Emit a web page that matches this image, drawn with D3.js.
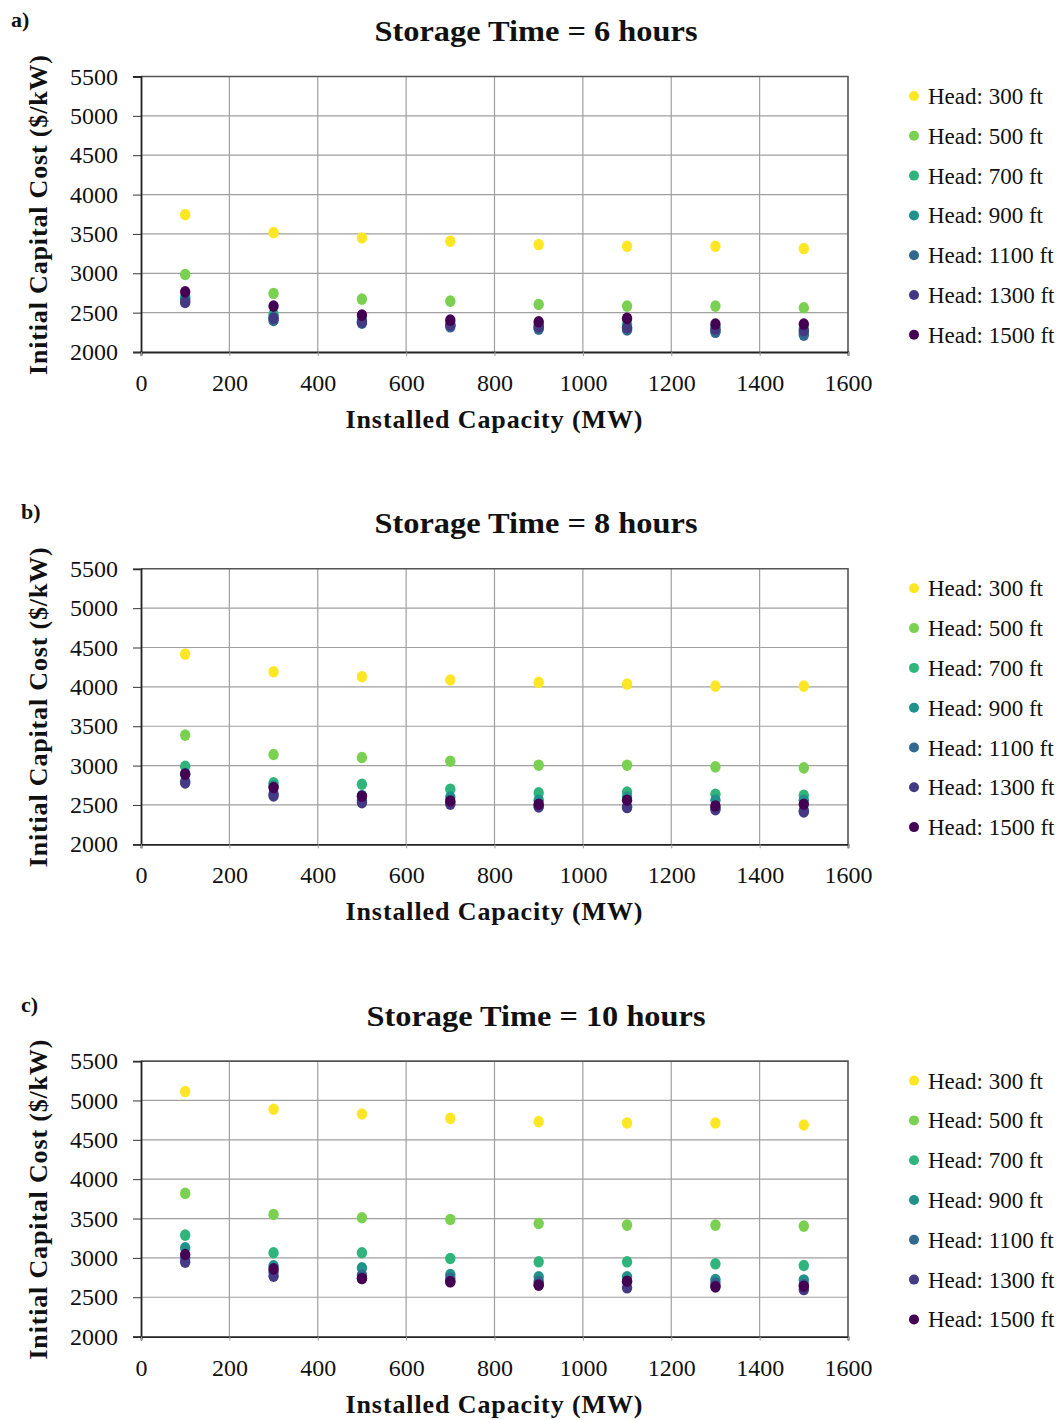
<!DOCTYPE html>
<html>
<head>
<meta charset="utf-8">
<script src="https://cdn.jsdelivr.net/npm/d3@7"></script>
<style>
  body { margin: 0; background: #fff; }
  text { font-family: "Liberation Serif", "Times New Roman", serif; fill: #111; }
</style>
</head>
<body>
<script>
// data
var capacity = [100, 300, 500, 700, 900, 1100, 1300, 1500];
var heads = [300, 500, 700, 900, 1100, 1300, 1500];
var headColors = ["#fde725", "#7ad151", "#2fb47c", "#21918c", "#31688e", "#443983", "#440154"];
var panelLabels = ["a)", "b)", "c)"];
var panelTitles = ["Storage Time = 6 hours", "Storage Time = 8 hours", "Storage Time = 10 hours"];
var yTicks = [2000, 2500, 3000, 3500, 4000, 4500, 5000, 5500];
var xTicks = [0, 200, 400, 600, 800, 1000, 1200, 1400, 1600];

// one row per head (300 ... 1500 ft), one value per capacity
var cost6 = [
  [3745, 3517, 3449, 3407, 3365, 3343, 3343, 3314],
  [2985, 2744, 2672, 2646, 2604, 2583, 2583, 2562],
  [2700, 2480, 2420, 2370, 2350, 2350, 2320, 2300],
  [2680, 2440, 2390, 2340, 2310, 2300, 2270, 2240],
  [2650, 2400, 2365, 2320, 2290, 2280, 2250, 2215],
  [2630, 2430, 2380, 2340, 2320, 2310, 2290, 2270],
  [2764, 2583, 2469, 2405, 2384, 2427, 2355, 2355]
];
var cost8 = [
  [4417, 4192, 4129, 4087, 4057, 4036, 4010, 4010],
  [3387, 3141, 3103, 3056, 3005, 3005, 2984, 2971],
  [2990, 2780, 2763, 2700, 2653, 2664, 2636, 2623],
  [2900, 2740, 2620, 2600, 2560, 2600, 2560, 2560],
  [2800, 2640, 2560, 2530, 2490, 2480, 2460, 2430],
  [2780, 2615, 2530, 2509, 2475, 2467, 2441, 2411],
  [2891, 2721, 2611, 2551, 2509, 2560, 2487, 2509]
];
var cost10 = [
  [5113, 4888, 4828, 4773, 4731, 4714, 4714, 4688],
  [3819, 3552, 3510, 3488, 3437, 3416, 3416, 3403],
  [3289, 3065, 3065, 2992, 2950, 2950, 2925, 2903],
  [3128, 2900, 2874, 2789, 2760, 2760, 2725, 2720],
  [3000, 2820, 2780, 2740, 2700, 2700, 2680, 2660],
  [2945, 2767, 2740, 2700, 2660, 2620, 2640, 2598],
  [3043, 2861, 2738, 2696, 2653, 2704, 2632, 2640]
];
var panelData = [cost6, cost8, cost10];

var width = 1063, height = 1420;
var svg = d3.select("body").append("svg")
  .attr("width", width)
  .attr("height", height);

var x = d3.scaleLinear().domain([0, 1600]).range([141, 848]);
var fmt = d3.format("d");

panelData.forEach(function (rows, p) {
  var off = p * 492.3;
  var y = d3.scaleLinear().domain([2000, 5500]).range([352 + off, 76.5 + off]);
  var g = svg.append("g");

  // grid
  g.append("g").selectAll("line").data(xTicks.slice(1, -1)).join("line")
    .attr("x1", d => x(d)).attr("x2", d => x(d))
    .attr("y1", y(5500)).attr("y2", y(2000))
    .attr("stroke", "#a0a0a0").attr("stroke-width", 1.2);
  g.append("g").selectAll("line").data(yTicks.slice(1, -1)).join("line")
    .attr("x1", x(0)).attr("x2", x(1600))
    .attr("y1", d => y(d)).attr("y2", d => y(d))
    .attr("stroke", "#a0a0a0").attr("stroke-width", 1.2);

  // top/right frame
  g.append("path")
    .attr("d", "M" + x(0) + "," + y(5500) + "H" + x(1600) + "V" + y(2000))
    .attr("fill", "none").attr("stroke", "#555").attr("stroke-width", 1.6);

  // axes
  var yAxis = g.append("g")
    .attr("transform", "translate(" + x(0) + ",0)")
    .call(d3.axisLeft(y).tickValues(yTicks).tickFormat(fmt).tickSize(8).tickPadding(15));
  yAxis.select(".domain").attr("stroke", "#222").attr("stroke-width", 1.8);
  yAxis.selectAll(".tick line").attr("stroke", "#333");
  yAxis.selectAll("text").style("font-size", "24px").attr("fill", "#111");

  var xAxis = g.append("g")
    .attr("transform", "translate(0," + y(2000) + ")")
    .call(d3.axisBottom(x).tickValues(xTicks).tickFormat(fmt).tickSize(4).tickPadding(18));
  xAxis.select(".domain").attr("stroke", "#222").attr("stroke-width", 1.8);
  xAxis.selectAll(".tick line").attr("stroke", "#999");
  xAxis.selectAll("text").style("font-size", "24px").attr("fill", "#111");

  // points, 300 ft first so 1500 ft is on top
  rows.forEach(function (vals, h) {
    g.append("g").selectAll("ellipse").data(vals).join("ellipse")
      .attr("cx", (d, i) => x(capacity[i]))
      .attr("cy", d => y(d))
      .attr("rx", 5.2).attr("ry", 5.8)
      .attr("fill", headColors[h]);
  });

  // titles
  g.append("text")
    .attr("x", 536).attr("y", 41 + off)
    .attr("text-anchor", "middle")
    .attr("textLength", p === 2 ? 339 : 323).attr("lengthAdjust", "spacingAndGlyphs")
    .style("font-size", "30px").style("font-weight", "bold")
    .text(panelTitles[p]);
  g.append("text")
    .attr("x", p === 0 ? 11 : 21).attr("y", 27 + off)
    .style("font-size", "22px").style("font-weight", "bold")
    .text(panelLabels[p]);
  g.append("text")
    .attr("transform", "translate(47," + (215 + off) + ") rotate(-90)")
    .attr("text-anchor", "middle")
    .attr("textLength", 320).attr("lengthAdjust", "spacing")
    .style("font-size", "26px").style("font-weight", "bold")
    .text("Initial Capital Cost ($/kW)");
  g.append("text")
    .attr("x", 494).attr("y", 428 + off)
    .attr("text-anchor", "middle")
    .attr("textLength", 297).attr("lengthAdjust", "spacing")
    .style("font-size", "26px").style("font-weight", "bold")
    .text("Installed Capacity (MW)");

  // legend
  var leg = g.append("g").selectAll("g").data(heads).join("g")
    .attr("transform", (d, i) => "translate(914," + (96 + off + i * 39.8) + ")");
  leg.append("circle").attr("r", 5).attr("fill", (d, i) => headColors[i]);
  leg.append("text").attr("x", 14).attr("y", 8)
    .style("font-size", "23px")
    .text(d => "Head: " + d + " ft");
});
</script>
</body>
</html>
